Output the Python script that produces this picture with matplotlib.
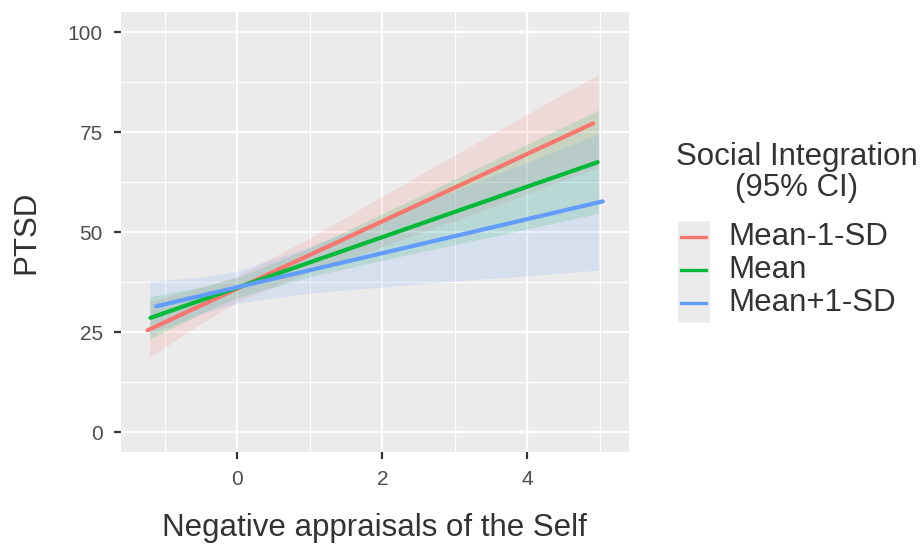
import numpy as np
import matplotlib.pyplot as plt
from matplotlib.lines import Line2D
from matplotlib.patches import Rectangle

plt.rcParams["font.family"] = ["Liberation Sans", "DejaVu Sans"]

# groups and colours (ggplot default hue)
groups = ["Mean-1-SD", "Mean", "Mean+1-SD"]
colors = ["#F8766D", "#00BA38", "#619CFF"]

# fitted lines (end points)
line_x = {
    "Mean-1-SD": [-1.24, 4.91],
    "Mean": [-1.20, 4.97],
    "Mean+1-SD": [-1.12, 5.04],
}
line_y = {
    "Mean-1-SD": [25.5, 77.2],
    "Mean": [28.6, 67.5],
    "Mean+1-SD": [31.5, 57.7],
}

# 95% CI ribbons
rib_x = [-1.21, -0.5, 0, 1, 2, 3, 4, 4.98]
rib_lo = {
    "Mean-1-SD": [18.7, 27.2, 32.7, 40.0, 46.4, 52.9, 59.5, 66.2],
    "Mean": [23.3, 29.7, 33.7, 38.9, 43.0, 46.9, 50.8, 54.7],
    "Mean+1-SD": [24.5, 29.6, 32.3, 34.8, 36.3, 37.8, 39.1, 40.5],
}
rib_hi = {
    "Mean-1-SD": [32.7, 36.2, 39.1, 48.6, 59.0, 69.3, 79.5, 89.4],
    "Mean": [33.9, 36.3, 38.7, 46.1, 54.6, 63.3, 72.0, 80.5],
    "Mean+1-SD": [37.7, 38.8, 40.3, 46.4, 53.3, 60.4, 67.5, 74.5],
}

x_ticks = [0, 2, 4]
y_ticks = [0, 25, 50, 75, 100]

fig = plt.figure(figsize=(9.22, 5.47), dpi=100)
ax = fig.add_axes([0.131, 0.173, 0.551, 0.805])
ax.set_facecolor("#EBEBEB")

# lines first, ribbons on top (as in the ggplot layer order)
for g, c in zip(groups, colors):
    ax.plot(line_x[g], line_y[g], color=c, lw=3.0, solid_capstyle="round")
for g, c in zip(groups, colors):
    ax.fill_between(rib_x, rib_lo[g], rib_hi[g], color=c, alpha=0.15, lw=0)

ax.set_xlim(-1.61, 5.40)
ax.set_ylim(-5, 105)
ax.set_xticks(x_ticks)
ax.set_yticks(y_ticks)
ax.set_xticks([-1, 1, 3, 5], minor=True)
ax.set_yticks([12.5, 37.5, 62.5, 87.5], minor=True)
ax.grid(which="major", color="white", lw=1.6)
ax.grid(which="minor", color="white", lw=0.8)
ax.set_axisbelow(True)
for s in ax.spines.values():
    s.set_visible(False)

ax.tick_params(which="major", length=5, width=1.6, color="#333333",
               labelsize=15, labelcolor="#4D4D4D", pad=8)
ax.tick_params(which="minor", length=0)

ax.set_xlabel("Negative appraisals of the Self", fontsize=22.5, color="#333333", labelpad=17)
ax.set_ylabel("PTSD", fontsize=22.5, color="#333333", labelpad=19)

# legend drawn by hand, ggplot style
fig.text(797 / 922, 1 - 157 / 547, "Social Integration", ha="center", va="center",
         fontsize=22.5, color="#333333")
fig.text(797 / 922, 1 - 188 / 547, "(95% CI)", ha="center", va="center",
         fontsize=22.5, color="#333333")
fig.add_artist(Rectangle((677 / 922, 1 - 323 / 547), 33 / 922, 103 / 547,
                         transform=fig.transFigure, facecolor="#EBEBEB",
                         edgecolor="white", lw=1))
key_y = [237, 270, 303]
for g, c, yy in zip(groups, colors, key_y):
    fy = 1 - yy / 547
    fig.add_artist(Line2D([681 / 922, 706 / 922], [fy, fy], transform=fig.transFigure,
                          color=c, lw=2.4))
    fig.text(728 / 922, fy, g, ha="left", va="center", fontsize=22.5, color="#333333")

fig.savefig("out.png", dpi=100)
